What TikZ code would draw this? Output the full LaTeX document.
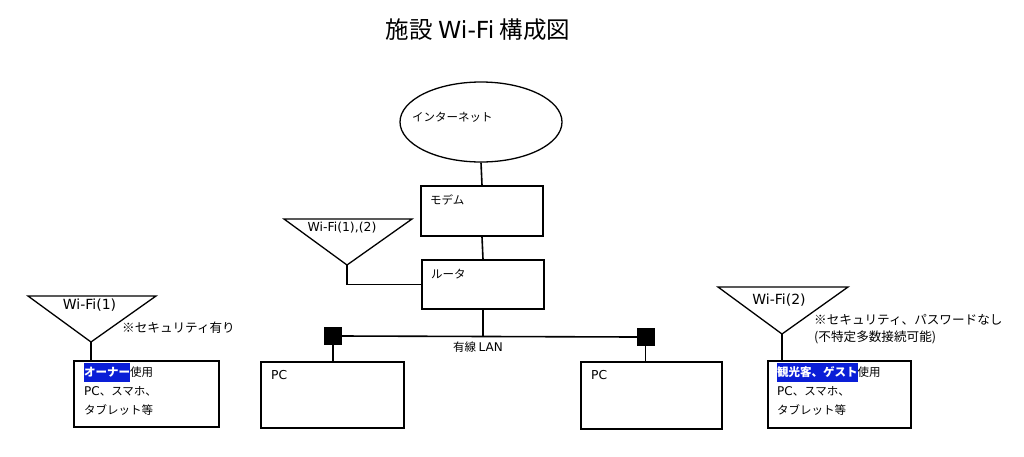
\documentclass[tikz,border=0pt]{standalone}
\usepackage{fontspec}
\setmainfont{Noto Sans CJK JP}
\newfontfamily\lat{DejaVu Sans}
\usetikzlibrary{shapes.geometric}
\definecolor{hlblue}{RGB}{10,30,215}
\newcommand{\hlt}[1]{{\setlength{\fboxsep}{0pt}\colorbox{hlblue}{\strut\textcolor{white}{\bfseries #1}}}}
\begin{document}
\begin{tikzpicture}[x=1pt,y=-1pt,
  txt/.style={font=\fontsize{11.5}{19}\selectfont, inner sep=0pt},
  note/.style={font=\fontsize{12.6}{17}\selectfont, inner sep=0pt},
  wlab/.style={font=\fontsize{14}{17}\selectfont\lat, inner sep=0pt},
  box/.style={draw, line width=1.6pt, rectangle, inner sep=0pt},
  conn/.style={line width=1.6pt},
  tri/.style={line width=1.3pt, line join=miter},
  sq/.style={fill=black, draw=black, minimum size=17pt, inner sep=0pt, rectangle}]
\useasboundingbox (0,0) rectangle (1024,456);
% title
\node[inner sep=0pt, font=\fontsize{23.5}{27}\selectfont] (title) at (478,30) {施設 {\lat Wi-Fi} 構成図};
% internet
\node[draw, ellipse, line width=1.3pt, minimum width=162pt, minimum height=80pt, inner sep=0pt] (inet) at (481,122) {};
\node[txt, anchor=west] (inettxt) at (412,117) {インターネット};
% modem
\node[box, minimum width=122pt, minimum height=50pt] (modem) at (482,211) {};
\node[txt, anchor=west] (modemtxt) at (430,200) {モデム};
% router
\node[box, minimum width=122pt, minimum height=49pt] (router) at (483,284.5) {};
\node[txt, anchor=west] (routertxt) at (431,274) {ルータ};
\draw[conn] (inet.south) -- (modem.north);
\draw[conn] (modem.south) -- (router.south |- router.north);
% wifi (1),(2) antenna
\coordinate (t0) at (347,265);
\draw[tri] (284,219) -- (412,219) -- (t0) -- cycle;
\node[wlab, font=\fontsize{12.4}{15}\selectfont\lat] (t0txt) at (342,228) {Wi-Fi(1),(2)};
\draw[conn] (t0) |- (router.west);
% LAN
\node[sq] (sqL) at (333,336) {};
\node[sq] (sqR) at (645.5,337) {};
\draw[conn] (sqL.east) -- (sqR.west);
\draw[conn] (router.south) -- (router.south |- sqL.east);
\node[txt] (lantxt) at (478,347) {有線 {\lat\fontsize{12}{14}\selectfont LAN}};
% PCs
\node[box, minimum width=143pt, minimum height=66pt] (pcL) at (332.5,395) {};
\node[txt, anchor=west, font=\fontsize{12.3}{14}\selectfont\lat] (pcLtxt) at (271,375) {PC};
\node[box, minimum width=141pt, minimum height=67pt] (pcR) at (651.5,395.5) {};
\node[txt, anchor=west, font=\fontsize{12.3}{14}\selectfont\lat] (pcRtxt) at (591,375) {PC};
\draw[conn] (sqL.south) -- (sqL.south |- pcL.north);
\draw[conn] (sqR.south) -- (sqR.south |- pcR.north);
% Wi-Fi(1) owner
\coordinate (t1) at (91,342);
\draw[tri] (28,296) -- (156,296) -- (t1) -- cycle;
\node[wlab] (t1txt) at (89.5,305) {Wi-Fi(1)};
\node[note, anchor=west] (note1) at (122,328) {※セキュリティ有り};
\node[box, minimum width=145pt, minimum height=66pt] (owner) at (146.5,394) {};
\draw[conn] (t1) -- (t1 |- owner.north);
\node[txt, anchor=north west, align=left] (ownertxt) at (84,362.5) {\hlt{オーナー}使用\\{\lat\fontsize{12}{19}\selectfont PC}、スマホ、\\タブレット等};
% Wi-Fi(2) guest
\coordinate (t2) at (782,334);
\draw[tri] (718,287) -- (848,287) -- (t2) -- cycle;
\node[wlab] (t2txt) at (779,300) {Wi-Fi(2)};
\node[note, anchor=west] (note2a) at (814,320) {※セキュリティ、パスワードなし};
\node[note, anchor=west] (note2b) at (814,337) {(不特定多数接続可能)};
\node[box, minimum width=143pt, minimum height=67pt] (guest) at (839.5,394.5) {};
\draw[conn] (t2) -- (t2 |- guest.north);
\node[txt, anchor=north west, align=left] (guesttxt) at (777,362.5) {\hlt{観光客、ゲスト}使用\\{\lat\fontsize{12}{19}\selectfont PC}、スマホ、\\タブレット等};
\end{tikzpicture}
\end{document}
